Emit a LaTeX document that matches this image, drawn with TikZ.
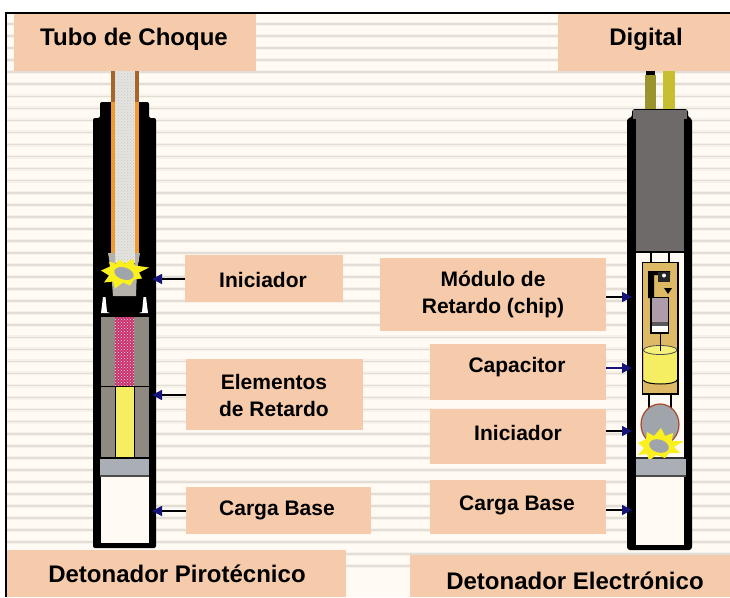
\documentclass[tikz,border=0pt]{standalone}
\usepackage{fontspec}
\setmainfont{Liberation Sans}
\usetikzlibrary{arrows.meta,patterns}
\definecolor{peach}{HTML}{F6CBAC}
\definecolor{paper}{HTML}{FFFBF4}
\definecolor{stripeA}{HTML}{E2DED6}
\definecolor{stripeB}{HTML}{F6F2EA}
\definecolor{navyhead}{HTML}{14147A}
\definecolor{wallgrey}{HTML}{8E8A82}
\definecolor{plug}{HTML}{6E6A6A}
\definecolor{blockgrey}{HTML}{A9AFB4}
\definecolor{pinkfill}{HTML}{C9306C}
\definecolor{yel}{HTML}{F5EE62}
\definecolor{gold}{HTML}{DDB966}
\definecolor{mauve}{HTML}{AD9DAB}
\definecolor{orangeA}{HTML}{F09A30}
\definecolor{brownA}{HTML}{A8652A}
\definecolor{tubeg}{HTML}{E4E4E1}
\definecolor{starY}{HTML}{FAF01E}
\definecolor{ballg}{HTML}{9FA5AB}
\definecolor{ballr}{HTML}{A8482A}
\definecolor{capg}{HTML}{B4B2AA}
\tikzset{
  x=1pt,y=-1pt,
  peachbox/.style={fill=peach,draw=none,inner sep=0pt,outer sep=0pt},
  titletext/.style={font=\fontsize{24}{28}\selectfont\bfseries,inner sep=0pt,anchor=center},
  labeltext/.style={font=\fontsize{21}{27}\selectfont\bfseries,inner sep=0pt,anchor=center,align=center},
  pointer/.style={line width=1.3pt,draw=black,-{Triangle[length=10pt,width=10pt,color=navyhead]}},
  bluepointer/.style={line width=1.3pt,draw=navyhead,-{Triangle[length=10pt,width=10pt,color=navyhead]}},
  burst/.style={fill=starY,draw=none},
  thinblack/.style={draw=black,line width=1pt},
}
\begin{document}
\begin{tikzpicture}
\useasboundingbox (0,0) rectangle (730,597);
\fill[white] (0,0) rectangle (730,597);
\fill[paper] (6,13) rectangle (730,597);
% stripes
\foreach \k in {0,...,45}{
  \pgfmathsetmacro{\yy}{24+12.05*\k}
  \fill[stripeB] (7,\yy-2) rectangle (730,\yy+2);
  \fill[stripeA] (7,\yy-.8) rectangle (730,\yy+.8);
}

% ===== Left detonator =====
\fill[brownA] (111,60) rectangle (139,102);
\fill[black,rounded corners=2pt] (100,102) -- (149,102) -- (149,118) -- (156,118) -- (156,548) -- (93,548) -- (93,118) -- (100,118) -- cycle;
\fill[orangeA] (111,102) rectangle (139,262);
\fill[tubeg] (115,60) rectangle (134.5,263);
\fill[pattern=crosshatch dots,pattern color=black!22] (115,60) rectangle (134.5,263);
\fill[capg] (108,253) -- (115,253) -- (115,270) -- (135,270) -- (135,253) -- (140,253) -- (137,270) -- (136,296) -- (113,296) -- (111,270) -- cycle;
\fill[white] (103,297) -- (105.5,297) -- (107,312) -- (110,313) -- (101,313) -- cycle;
\fill[white] (146,297) -- (143.5,297) -- (142,312) -- (139,313) -- (148,313) -- cycle;
\begin{scope}[shift={(124,273.5)}]
\fill[burst] (-23,-3) -- (-14,-7) -- (-15,-12) -- (-8,-10) -- (-4,-14) -- (1,-10) -- (9,-15) -- (11,-8) -- (25,-6) -- (15,-1) -- (18,5) -- (10,6) -- (6,12) -- (-1,9) -- (-9,15) -- (-11,8) -- (-20,9) -- (-15,2) -- cycle;
\fill[ballg,rotate=-18] (0,0) ellipse (10pt and 6pt);
\end{scope}
\fill[wallgrey] (101,317) rectangle (149,386);
\fill[wallgrey] (101,387) rectangle (149,457);
\fill[pinkfill] (115,317) rectangle (134,386);
\fill[pattern=crosshatch dots,pattern color=white!85!pinkfill] (115,317) rectangle (134,386);
\fill[yel] (115,387) rectangle (134,457);
\draw[thinblack] (101,386.5) -- (149,386.5);
\draw[thinblack] (115,387) -- (115,457) (134,387) -- (134,457);
\draw[thinblack] (101,457.5) -- (149,457.5);
\fill[blockgrey] (100,459) rectangle (149,475);
\fill[black!70] (100,475) rectangle (149,477);
\fill[paper] (101,477) rectangle (149,543);

% ===== Right detonator =====
\fill[black] (646,60) rectangle (655,75);
\fill[olive!85!yellow!70!gray] (645,75) rectangle (656,110);
\fill[yellow!75!black] (663,60) rectangle (675,110);
\fill[black,rounded corners=3pt] (632,109) -- (688,109) -- (688,118) -- (692,118) -- (692,550) -- (627,550) -- (627,118) -- (632,118) -- cycle;
\fill[plug] (636,112) rectangle (684,252);
\fill[plug] (633,110) rectangle (687,119);
\fill[paper] (636,252) rectangle (684,545);
\draw[thinblack,line width=1.2pt] (636,252) -- (684,252);
\draw[thinblack,line width=1.5pt] (651,252) -- (651,262) (669,252) -- (669,262);
\draw[line width=1.5pt,black,fill=gold] (642.5,262.5) rectangle (678,394);
% chip internals
\fill[black] (648,271) rectangle (670,275) (648,271) rectangle (654,298);
\fill[black!85] (658,272) rectangle (670,282);
\fill[white] (664,275.5) circle (2pt);
\fill[black] (664,288) -- (672,288) -- (668,294) -- cycle;
\draw[line width=1.2pt,black,fill=mauve] (651,297.5) rectangle (668.5,333);
\fill[black!65] (651.5,322) rectangle (668,326);
\fill[white] (651.7,326) rectangle (667.8,332.2);
% capacitor
\fill[yel] (643.5,350) rectangle (677,379);
\fill[yel] (660.2,379) ellipse (16.8pt and 5pt);
\draw[draw=black!70,line width=.8pt,fill=yel!85!white] (660.2,350) ellipse (16.8pt and 4.5pt);
\draw[thinblack] (660,333) -- (660,351);
\draw[thinblack] (643.5,380) arc[start angle=180,end angle=360,x radius=16.8pt,y radius=4pt];
\draw[line width=1.5pt,black] (642.5,350) -- (642.5,394) (678,350) -- (678,394);
% initiator
\draw[line width=1.8pt,black] (649,394) -- (649,408) (671,394) -- (671,408);
\draw[line width=1.2pt,draw=ballr,fill=ballg] (660,424.5) ellipse (19pt and 20.5pt);
\fill[black!80] (636,457) rectangle (684,459);
\begin{scope}[shift={(659,446)}]
\fill[burst] (-21,-3) -- (-13,-7) -- (-12,-14) -- (-5,-10) -- (2,-18) -- (6,-10) -- (14,-13) -- (13,-5) -- (25,-5) -- (15,1) -- (21,7) -- (10,7) -- (6,12) -- (-3,9) -- (-10,15) -- (-12,8) -- (-21,9) -- (-15,2) -- cycle;
\fill[ballg,rotate=-15] (0,0) ellipse (10pt and 6.5pt);
\end{scope}
\fill[blockgrey] (636,459) rectangle (685.5,475);
\fill[black!70] (636,475) rectangle (685.5,477);

% ===== Pointer targets =====
\coordinate (tipA) at (152,279);
\coordinate (tipB) at (152,395);
\coordinate (tipC) at (152,511);
\coordinate (tipD) at (632,297);
\coordinate (tipE) at (632,368);
\coordinate (tipF) at (632,431);
\coordinate (tipG) at (632,510);

% ===== Boxes =====
\node[peachbox,minimum width=242pt,minimum height=57pt] (tubo) at (135,42.5) {};
\node[peachbox,minimum width=172pt,minimum height=57pt] (digi) at (644,42.5) {};
\node[peachbox,minimum width=339pt,minimum height=47pt] (piro) at (176.5,573.5) {};
\node[peachbox,minimum width=320pt,minimum height=42pt] (elec) at (570,576) {};
\node[peachbox,minimum width=158pt,minimum height=47pt] (iniL) at (264,278.5) {};
\node[peachbox,minimum width=177pt,minimum height=71pt] (eleL) at (274.5,394.5) {};
\node[peachbox,minimum width=185pt,minimum height=47pt] (carL) at (278.5,510.5) {};
\node[peachbox,minimum width=226pt,minimum height=73pt] (modR) at (493,294.5) {};
\node[peachbox,minimum width=176pt,minimum height=56pt] (capR) at (518,372) {};
\node[peachbox,minimum width=176pt,minimum height=55pt] (iniR) at (518,436.5) {};
\node[peachbox,minimum width=176pt,minimum height=54pt] (carR) at (518,507) {};

% frame
\draw[line width=1.5pt,black] (6,597) -- (6,13) -- (730,13);

% ===== Connectors =====
\draw[pointer] (iniL.west |- tipA) -- (tipA);
\draw[pointer] (eleL.west |- tipB) -- (tipB);
\draw[pointer] (carL.west |- tipC) -- (tipC);
\draw[pointer] (modR.east |- tipD) -- (tipD);
\draw[bluepointer] (capR.east |- tipE) -- (tipE);
\draw[pointer] (iniR.east |- tipF) -- (tipF);
\draw[pointer] (carR.east |- tipG) -- (tipG);

% ===== Texts =====
\node[titletext] (t1) at (134,39.5) {Tubo de Choque};
\node[titletext] (t2) at (646,39.5) {Digital};
\node[titletext] (t3) at (177,574) {Detonador Pirotécnico};
\node[titletext] (t4) at (575,581) {Detonador Electrónico};
\node[labeltext] (l1) at (263,280) {Iniciador};
\node[labeltext] (l2) at (274,395) {Elementos\\de Retardo};
\node[labeltext] (l3) at (277,510) {Carga Base};
\node[labeltext] (l4) at (493,294.5) {Módulo de\\Retardo (chip)};
\node[labeltext] (l5) at (517,367) {Capacitor};
\node[labeltext] (l6) at (518,432.5) {Iniciador};
\node[labeltext] (l7) at (517,505) {Carga Base};
\end{tikzpicture}
\end{document}
